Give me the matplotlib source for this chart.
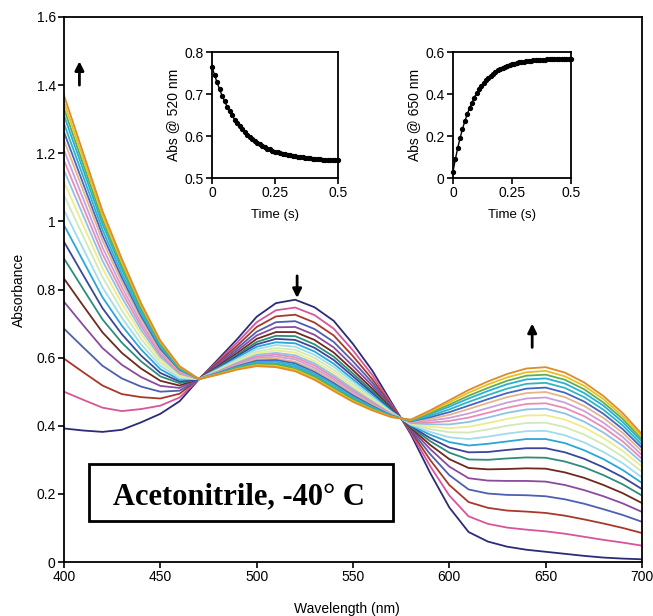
#!/usr/bin/env python3
import numpy as np
import matplotlib
matplotlib.use("Agg")
import matplotlib.pyplot as plt
from matplotlib.patches import Rectangle

plt.rcParams['font.family'] = ['Liberation Sans', 'DejaVu Sans']

# Spectra: absorbance of the 22 scans (first -> last) at each wavelength
wavelengths = [400, 410, 420, 430, 440, 450, 460, 470, 480, 490, 500,
               510, 520, 530, 540, 550, 560, 570, 580, 590, 600,
               610, 620, 630, 640, 650, 660, 670, 680, 690, 700]

at_400 = [0.392, 0.500, 0.597, 0.685, 0.764, 0.832, 0.891, 0.940, 0.989, 1.033, 1.077, 1.116, 1.150, 1.179, 1.209, 1.238, 1.262, 1.287, 1.311, 1.331, 1.350, 1.370]
at_410 = [0.386, 0.476, 0.557, 0.630, 0.695, 0.752, 0.801, 0.842, 0.883, 0.919, 0.956, 0.988, 1.017, 1.041, 1.066, 1.090, 1.110, 1.131, 1.151, 1.167, 1.184, 1.200]
at_420 = [0.382, 0.453, 0.518, 0.576, 0.628, 0.674, 0.712, 0.745, 0.777, 0.806, 0.836, 0.862, 0.884, 0.904, 0.923, 0.943, 0.959, 0.975, 0.991, 1.004, 1.017, 1.030]
at_430 = [0.388, 0.443, 0.493, 0.539, 0.579, 0.614, 0.644, 0.669, 0.694, 0.717, 0.739, 0.759, 0.777, 0.792, 0.807, 0.822, 0.835, 0.847, 0.860, 0.870, 0.880, 0.890]
at_440 = [0.410, 0.449, 0.484, 0.515, 0.543, 0.568, 0.589, 0.606, 0.624, 0.639, 0.655, 0.669, 0.681, 0.692, 0.702, 0.713, 0.722, 0.730, 0.739, 0.746, 0.753, 0.760]
at_450 = [0.435, 0.459, 0.480, 0.500, 0.517, 0.532, 0.545, 0.555, 0.566, 0.576, 0.586, 0.594, 0.602, 0.608, 0.615, 0.621, 0.626, 0.632, 0.637, 0.641, 0.646, 0.650]
at_460 = [0.472, 0.483, 0.494, 0.503, 0.511, 0.518, 0.525, 0.530, 0.535, 0.539, 0.544, 0.548, 0.552, 0.555, 0.558, 0.561, 0.564, 0.566, 0.569, 0.571, 0.573, 0.575]
at_470 = [0.536, 0.537, 0.538, 0.536, 0.537, 0.538, 0.537, 0.536, 0.538, 0.537, 0.536, 0.537, 0.538, 0.537, 0.536, 0.537, 0.538, 0.537, 0.536, 0.537, 0.538, 0.537]
at_480 = [0.595, 0.590, 0.586, 0.581, 0.578, 0.575, 0.572, 0.570, 0.568, 0.566, 0.563, 0.562, 0.560, 0.559, 0.557, 0.556, 0.555, 0.554, 0.553, 0.552, 0.551, 0.550]
at_490 = [0.655, 0.645, 0.636, 0.628, 0.621, 0.614, 0.609, 0.605, 0.600, 0.596, 0.592, 0.588, 0.585, 0.583, 0.580, 0.577, 0.575, 0.573, 0.570, 0.569, 0.567, 0.565]
at_500 = [0.720, 0.704, 0.690, 0.676, 0.665, 0.655, 0.646, 0.639, 0.632, 0.625, 0.618, 0.613, 0.608, 0.603, 0.599, 0.595, 0.591, 0.587, 0.584, 0.581, 0.578, 0.575]
at_510 = [0.760, 0.739, 0.721, 0.704, 0.689, 0.675, 0.664, 0.655, 0.645, 0.637, 0.628, 0.621, 0.614, 0.609, 0.603, 0.597, 0.593, 0.588, 0.583, 0.580, 0.576, 0.572]
at_520 = [0.770, 0.747, 0.726, 0.707, 0.690, 0.675, 0.663, 0.652, 0.642, 0.632, 0.623, 0.615, 0.607, 0.601, 0.595, 0.588, 0.583, 0.578, 0.573, 0.568, 0.564, 0.560]
at_530 = [0.748, 0.725, 0.703, 0.684, 0.667, 0.652, 0.639, 0.629, 0.618, 0.608, 0.599, 0.590, 0.583, 0.577, 0.570, 0.564, 0.558, 0.553, 0.548, 0.544, 0.539, 0.535]
at_540 = [0.708, 0.685, 0.665, 0.646, 0.630, 0.615, 0.603, 0.593, 0.582, 0.573, 0.564, 0.556, 0.548, 0.542, 0.536, 0.530, 0.525, 0.520, 0.514, 0.510, 0.506, 0.502]
at_550 = [0.640, 0.621, 0.604, 0.589, 0.575, 0.563, 0.553, 0.545, 0.536, 0.529, 0.521, 0.514, 0.508, 0.503, 0.498, 0.493, 0.489, 0.484, 0.480, 0.477, 0.473, 0.470]
at_560 = [0.562, 0.549, 0.537, 0.527, 0.518, 0.509, 0.502, 0.496, 0.491, 0.485, 0.480, 0.475, 0.471, 0.468, 0.464, 0.461, 0.458, 0.455, 0.452, 0.450, 0.447, 0.445]
at_570 = [0.468, 0.463, 0.459, 0.455, 0.452, 0.449, 0.446, 0.444, 0.442, 0.440, 0.438, 0.436, 0.435, 0.433, 0.432, 0.431, 0.430, 0.429, 0.428, 0.427, 0.426, 0.425]
at_580 = [0.375, 0.380, 0.384, 0.388, 0.391, 0.394, 0.397, 0.399, 0.401, 0.403, 0.405, 0.407, 0.408, 0.410, 0.411, 0.412, 0.413, 0.414, 0.415, 0.416, 0.417, 0.418]
at_590 = [0.262, 0.282, 0.300, 0.317, 0.332, 0.344, 0.355, 0.364, 0.374, 0.382, 0.390, 0.397, 0.404, 0.409, 0.415, 0.420, 0.425, 0.429, 0.434, 0.438, 0.441, 0.445]
at_600 = [0.160, 0.195, 0.226, 0.255, 0.280, 0.302, 0.321, 0.336, 0.352, 0.366, 0.381, 0.393, 0.404, 0.414, 0.423, 0.432, 0.440, 0.448, 0.456, 0.462, 0.469, 0.475]
at_610 = [0.088, 0.134, 0.176, 0.213, 0.246, 0.276, 0.301, 0.322, 0.342, 0.361, 0.380, 0.397, 0.411, 0.424, 0.436, 0.449, 0.459, 0.470, 0.480, 0.488, 0.497, 0.505]
at_620 = [0.060, 0.112, 0.159, 0.201, 0.239, 0.272, 0.300, 0.323, 0.347, 0.368, 0.389, 0.408, 0.424, 0.438, 0.452, 0.467, 0.478, 0.490, 0.502, 0.511, 0.521, 0.530]
at_630 = [0.045, 0.101, 0.151, 0.197, 0.238, 0.273, 0.304, 0.329, 0.354, 0.377, 0.400, 0.420, 0.438, 0.453, 0.468, 0.484, 0.496, 0.509, 0.522, 0.532, 0.542, 0.552]
at_640 = [0.036, 0.095, 0.148, 0.196, 0.238, 0.275, 0.307, 0.334, 0.361, 0.384, 0.408, 0.430, 0.448, 0.464, 0.480, 0.496, 0.509, 0.523, 0.536, 0.547, 0.557, 0.568]
at_650 = [0.030, 0.090, 0.144, 0.193, 0.236, 0.274, 0.306, 0.334, 0.361, 0.385, 0.409, 0.431, 0.450, 0.466, 0.483, 0.499, 0.512, 0.526, 0.539, 0.550, 0.561, 0.572]
at_660 = [0.024, 0.083, 0.136, 0.184, 0.226, 0.263, 0.295, 0.322, 0.349, 0.372, 0.396, 0.418, 0.436, 0.452, 0.468, 0.484, 0.497, 0.511, 0.524, 0.535, 0.545, 0.556]
at_670 = [0.018, 0.074, 0.125, 0.171, 0.211, 0.247, 0.278, 0.303, 0.328, 0.351, 0.374, 0.395, 0.412, 0.428, 0.443, 0.458, 0.471, 0.484, 0.496, 0.507, 0.517, 0.527]
at_680 = [0.013, 0.065, 0.113, 0.155, 0.193, 0.226, 0.255, 0.278, 0.302, 0.323, 0.345, 0.364, 0.380, 0.395, 0.409, 0.423, 0.435, 0.447, 0.459, 0.468, 0.478, 0.487]
at_690 = [0.010, 0.057, 0.100, 0.138, 0.172, 0.202, 0.228, 0.249, 0.270, 0.290, 0.309, 0.326, 0.341, 0.354, 0.367, 0.379, 0.390, 0.401, 0.411, 0.420, 0.428, 0.437]
at_700 = [0.008, 0.048, 0.085, 0.118, 0.147, 0.173, 0.195, 0.214, 0.232, 0.248, 0.265, 0.280, 0.292, 0.303, 0.314, 0.325, 0.335, 0.344, 0.353, 0.360, 0.368, 0.375]

scan_colors = ['#2b2b78', '#d8559a', '#a8382a', '#4e5fb0', '#8c4a9c', '#6e2a1e',
               '#2e8c78', '#3c4698', '#2aa6d8', '#9fdcec', '#cfe9b8', '#ecec8a',
               '#8ec2e6', '#e88cb8', '#c9a0da', '#e6b48c', '#4466c4', '#2fb4c0',
               '#26aee0', '#5fb04a', '#e8c020', '#e08a28']

# Kinetic traces for the insets
time_s = [0.00, 0.01, 0.02, 0.03, 0.04, 0.05, 0.06, 0.07, 0.08, 0.09,
          0.10, 0.11, 0.12, 0.13, 0.14, 0.15, 0.16, 0.17, 0.18, 0.19,
          0.20, 0.21, 0.22, 0.23, 0.24, 0.25, 0.26, 0.27, 0.28, 0.29,
          0.30, 0.31, 0.32, 0.33, 0.34, 0.35, 0.36, 0.37, 0.38, 0.39,
          0.40, 0.41, 0.42, 0.43, 0.44, 0.45, 0.46, 0.47, 0.48, 0.49, 0.50]
abs_520 = [0.765, 0.745, 0.728, 0.711, 0.696, 0.683, 0.670, 0.659, 0.649, 0.639,
           0.631, 0.623, 0.616, 0.609, 0.603, 0.598, 0.593, 0.588, 0.584, 0.580,
           0.577, 0.573, 0.570, 0.568, 0.565, 0.563, 0.561, 0.559, 0.558, 0.556,
           0.555, 0.554, 0.553, 0.552, 0.551, 0.550, 0.549, 0.548, 0.548, 0.547,
           0.546, 0.546, 0.545, 0.545, 0.544, 0.544, 0.543, 0.543, 0.542, 0.542, 0.542]
abs_650 = [0.030, 0.090, 0.143, 0.190, 0.233, 0.270, 0.303, 0.333, 0.359, 0.383,
           0.404, 0.422, 0.438, 0.453, 0.466, 0.478, 0.488, 0.497, 0.505, 0.512,
           0.519, 0.524, 0.529, 0.534, 0.538, 0.541, 0.545, 0.547, 0.550, 0.552,
           0.554, 0.556, 0.557, 0.559, 0.560, 0.561, 0.562, 0.563, 0.564, 0.564,
           0.565, 0.565, 0.566, 0.566, 0.567, 0.567, 0.567, 0.568, 0.568, 0.568, 0.568]

x_ticks = [400, 450, 500, 550, 600, 650, 700]
y_ticks = [0, 0.2, 0.4, 0.6, 0.8, 1.0, 1.2, 1.4, 1.6]
y_tick_labels = ['0', '0.2', '0.4', '0.6', '0.8', '1', '1.2', '1.4', '1.6']
time_ticks = [0, 0.25, 0.5]
time_tick_labels = ['0', '0.25', '0.5']


def style_axes(ax, labelsize):
    for sp in ax.spines.values():
        sp.set_linewidth(1.3)
        sp.set_color('black')
    ax.tick_params(direction='out', length=4, width=1.2, labelsize=labelsize,
                   pad=2)


def draw_inset(fig, rect, y, ylim, yticks, ylabels, ylabel):
    ins = fig.add_axes(rect)
    ins.plot(time_s, y, 'o-', color='black', markersize=2.8, lw=1.0,
             clip_on=False, zorder=3)
    ins.set_xlim(0, 0.5)
    ins.set_ylim(*ylim)
    ins.set_xticks(time_ticks)
    ins.set_xticklabels(time_tick_labels)
    ins.set_yticks(yticks)
    ins.set_yticklabels(ylabels)
    ins.set_xlabel('Time (s)', fontsize=9.5, labelpad=6)
    ins.set_ylabel(ylabel, fontsize=10, labelpad=3)
    style_axes(ins, 10)
    return ins


def main():
    fig = plt.figure(figsize=(6.53, 6.16), dpi=100)
    ax = fig.add_axes([64 / 653, 54 / 616, 578 / 653, 545 / 616])

    table = np.array([at_400, at_410, at_420, at_430, at_440, at_450, at_460,
                      at_470, at_480, at_490, at_500, at_510, at_520, at_530,
                      at_540, at_550, at_560, at_570, at_580, at_590, at_600,
                      at_610, at_620, at_630, at_640, at_650, at_660, at_670,
                      at_680, at_690, at_700])
    for k in range(table.shape[1]):
        ax.plot(wavelengths, table[:, k], color=scan_colors[k], lw=1.3)

    ax.set_xlim(400, 700)
    ax.set_ylim(0, 1.6)
    ax.set_xticks(x_ticks)
    ax.set_yticks(y_ticks)
    ax.set_yticklabels(y_tick_labels)
    style_axes(ax, 10)
    ax.set_xlabel('Wavelength (nm)', fontsize=10)
    ax.xaxis.set_label_coords(0.49, -0.074)
    ax.set_ylabel('Absorbance', fontsize=10)
    ax.yaxis.set_label_coords(-0.066, 0.5)

    # direction-of-change arrows
    arrow = dict(arrowstyle='-|>', lw=2, color='black', mutation_scale=13,
                 shrinkA=0, shrinkB=0)
    ax.annotate('', xy=(408, 1.47), xytext=(408, 1.40), arrowprops=arrow)
    ax.annotate('', xy=(521, 0.775), xytext=(521, 0.84), arrowprops=arrow)
    ax.annotate('', xy=(643, 0.70), xytext=(643, 0.63), arrowprops=arrow)

    # label box
    ax.add_patch(Rectangle((0.043, 0.075), 0.526, 0.105, transform=ax.transAxes,
                           fill=True, facecolor='white', edgecolor='black',
                           lw=2.0, zorder=4))
    ax.text(0.303, 0.105, 'Acetonitrile, -40\u00b0 C', transform=ax.transAxes,
            ha='center', va='baseline', fontsize=22, fontweight='bold',
            family='Liberation Serif', zorder=5)

    draw_inset(fig, [212 / 653, 438 / 616, 126 / 653, 126 / 616], abs_520,
               (0.5, 0.8), [0.5, 0.6, 0.7, 0.8], ['0.5', '0.6', '0.7', '0.8'],
               'Abs @ 520 nm')
    draw_inset(fig, [453 / 653, 438 / 616, 118 / 653, 126 / 616], abs_650,
               (0, 0.6), [0, 0.2, 0.4, 0.6], ['0', '0.2', '0.4', '0.6'],
               'Abs @ 650 nm')

    fig.savefig('out.png', dpi=100, facecolor='white')


if __name__ == "__main__":
    main()
